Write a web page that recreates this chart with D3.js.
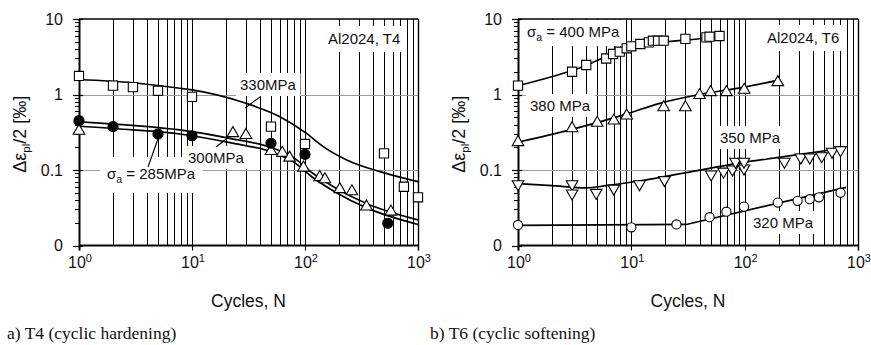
<!DOCTYPE html>
<html><head><meta charset="utf-8">
<script src="https://cdn.jsdelivr.net/npm/d3@7/dist/d3.min.js"></script>
<style>
body{margin:0;background:#fff}
svg{display:block}
text{font-family:"Liberation Sans",Arial,sans-serif;fill:#111}
</style>
</head><body>
<svg id="c" width="871" height="345"></svg>
<script>
// ---------- tick labels ----------
const yTickValues = [10, 1, 0.1, 0.01];
const yTickLabels = ["10", "1", "0.1", "0"];
const xTickValues = [1, 10, 100, 1000];
const xTickExps = ["0", "1", "2", "3"];

// ---------- panel a) T4 ----------
const t4_330_N = [1, 2, 3, 5, 10, 50, 100, 500, 750, 1000];
const t4_330_V = [1.76, 1.31, 1.25, 1.12, 0.93, 0.375, 0.221, 0.166, 0.060, 0.0435];
const t4_300_N = [1, 2, 5, 10, 50, 100, 540];
const t4_300_V = [0.45, 0.375, 0.30, 0.284, 0.226, 0.161, 0.0197];
const t4_285_N = [1, 23, 30, 50, 63, 73, 97, 135, 150, 203, 260, 350, 575];
const t4_285_V = [0.33, 0.306, 0.29, 0.178, 0.168, 0.145, 0.107, 0.080, 0.075, 0.0555, 0.052, 0.0327, 0.028];
const t4_fit330_N = [1, 3, 7.8, 10, 30, 60, 103, 145, 234, 461, 1000];
const t4_fit330_V = [1.58, 1.43, 1.21, 1.15, 0.765, 0.508, 0.306, 0.204, 0.136, 0.095, 0.070];
const t4_fit300_N = [1, 3, 7.8, 21.7, 52.5, 78.6, 118, 190, 350, 1000];
const t4_fit300_V = [0.435, 0.39, 0.34, 0.263, 0.194, 0.147, 0.090, 0.057, 0.036, 0.0218];
const t4_fit285_N = [1, 3, 7.8, 21.7, 52.5, 78.6, 118, 190, 350, 1000];
const t4_fit285_V = [0.38, 0.34, 0.30, 0.23, 0.17, 0.129, 0.079, 0.050, 0.0315, 0.019];

// ---------- panel b) T6 ----------
const t6_400_N = [1, 3, 4, 6, 6.9, 7.9, 9.1, 10, 12, 14.3, 15.5, 17.2, 19.3, 30, 46, 49, 60];
const t6_400_V = [1.31, 2.0, 2.46, 3.0, 3.44, 3.69, 4.09, 4.35, 4.67, 4.9, 5.16, 5.16, 5.16, 5.45, 5.72, 5.83, 5.95];
const t6_380_N = [1, 3, 5, 7, 9.1, 19.3, 30, 40, 50, 69, 99, 196];
const t6_380_V = [0.233, 0.356, 0.42, 0.45, 0.525, 0.676, 0.676, 0.98, 1.07, 1.07, 1.15, 1.45];
const t6_350_N = [1, 3, 3, 4.9, 7, 11.8, 19.6, 50.6, 65, 78, 98.6, 83, 98.6, 224, 313, 375, 478, 590, 701];
const t6_350_V = [0.065, 0.065, 0.049, 0.050, 0.057, 0.065, 0.0738, 0.0877, 0.0955, 0.102, 0.105, 0.129, 0.129, 0.129, 0.147, 0.147, 0.153, 0.175, 0.184];
const t6_320_N = [1, 10, 25, 49, 69, 98.6, 196, 293, 375, 452, 701];
const t6_320_V = [0.0187, 0.0174, 0.019, 0.0237, 0.028, 0.0327, 0.037, 0.039, 0.041, 0.0435, 0.050];
const t6_fit400_N = [1, 3.3, 9, 17.8, 30, 49, 60];
const t6_fit400_V = [1.31, 2.18, 4.0, 4.9, 5.25, 5.65, 5.85];
const t6_fit380_N = [1, 3, 9, 17.8, 40, 99, 200];
const t6_fit380_V = [0.233, 0.345, 0.55, 0.764, 1.0, 1.25, 1.55];
const t6_fit350_N = [1, 2, 4, 6, 12, 18, 30, 95, 200, 730];
const t6_fit350_V = [0.066, 0.062, 0.058, 0.062, 0.072, 0.08, 0.092, 0.125, 0.147, 0.194];
const t6_fit320_N = [1, 30.6, 785];
const t6_fit320_V = [0.0185, 0.019, 0.059];

const zip = (N, V) => N.map((n, i) => [n, V[i]]);

const svg = d3.select("#c");
const TOP = 19, BOT = 245.5;

function panel(x0, x1, cfg) {
  const x = d3.scaleLog().domain([1, 1000]).range([x0, x1]);
  const y = d3.scaleLog().domain([0.01, 10]).range([BOT, TOP]);
  const g = svg.append("g");
  const gGrid = g.append("g"), gBox = g.append("g"), gAxis = g.append("g"),
        gLine = g.append("g"), gMark = g.append("g"), gText = g.append("g");
  const snap = v => Math.round(v) + 0.5;

  // vertical grid
  const gridN = [];
  for (let k = 0; k < 3; k++) for (let d = 1; d <= 9; d++) gridN.push(d * Math.pow(10, k));
  gridN.push(1000);
  gGrid.selectAll("line.v").data(gridN).join("line")
    .attr("x1", d => snap(x(d))).attr("x2", d => snap(x(d)))
    .attr("y1", TOP).attr("y2", d => (d === 10 || d === 100 || d === 1000 || d === 1) ? BOT + 5 : BOT)
    .attr("stroke", "#000").attr("stroke-width", 1);
  // horizontal grid (gray)
  gGrid.selectAll("line.h").data([1, 0.1]).join("line")
    .attr("x1", x0).attr("x2", x1)
    .attr("y1", d => snap(y(d))).attr("y2", d => snap(y(d)))
    .attr("stroke", "#9a9a9a").attr("stroke-width", 1);

  // axes
  gAxis.append("line").attr("x1", x0).attr("x2", x1).attr("y1", BOT).attr("y2", BOT)
    .attr("stroke", "#000").attr("stroke-width", 2.2);
  gAxis.append("line").attr("x1", x0).attr("x2", x1).attr("y1", TOP).attr("y2", TOP)
    .attr("stroke", "#000").attr("stroke-width", 1.4);
  gAxis.append("line").attr("x1", snap(x0)).attr("x2", snap(x0)).attr("y1", TOP).attr("y2", BOT + 5)
    .attr("stroke", "#000").attr("stroke-width", 2);
  gAxis.append("line").attr("x1", snap(x1)).attr("x2", snap(x1)).attr("y1", TOP).attr("y2", BOT + 5)
    .attr("stroke", "#000").attr("stroke-width", 1.4);
  // y ticks
  const minorY = [];
  for (let k = -2; k < 1; k++) for (let d = 2; d <= 9; d++) minorY.push(d * Math.pow(10, k));
  gAxis.selectAll("line.ym").data(minorY).join("line")
    .attr("x1", x0 - 4).attr("x2", x0).attr("y1", d => snap(y(d))).attr("y2", d => snap(y(d)))
    .attr("stroke", "#000").attr("stroke-width", 1);
  gAxis.selectAll("line.yM").data(yTickValues).join("line")
    .attr("x1", x0 - 6).attr("x2", x0 + 4).attr("y1", d => snap(y(d))).attr("y2", d => snap(y(d)))
    .attr("stroke", "#000").attr("stroke-width", 1.2);
  gAxis.selectAll("text.yl").data(yTickValues).join("text")
    .attr("x", x0 - 16).attr("y", d => y(d)).attr("dy", "0.36em")
    .attr("text-anchor", "end").attr("font-size", 16)
    .text((d, i) => yTickLabels[i]);
  // x tick labels
  const xl = gAxis.selectAll("text.xl").data(xTickValues).join("text")
    .attr("x", d => x(d) + 1).attr("y", 268).attr("text-anchor", "middle").attr("font-size", 16);
  xl.append("tspan").text("10");
  xl.append("tspan").attr("dy", -6).attr("font-size", 11).text((d, i) => xTickExps[i]);

  // axis titles
  gText.append("text").attr("x", (x0 + x1) / 2).attr("y", 307).attr("text-anchor", "middle")
    .attr("font-size", 17.5).text("Cycles, N");
  const yt = gText.append("text").attr("transform", `translate(${x0 - 53},${(TOP + BOT) / 2 + 2}) rotate(-90)`)
    .attr("text-anchor", "middle").attr("font-size", 18);
  yt.append("tspan").text("Δε");
  yt.append("tspan").attr("dy", 4).attr("font-size", 11.5).text("pl");
  yt.append("tspan").attr("dy", -4).text("/2 [‰]");

  // fitted curves
  const line = d3.line().x(d => x(d[0])).y(d => y(d[1]));
  cfg.fits.forEach(f => {
    gLine.append("path").attr("d", line.curve(f.curve || d3.curveMonotoneX)(f.data))
      .attr("fill", "none").attr("stroke", "#000").attr("stroke-width", 1.7);
  });

  // markers
  cfg.marks.forEach(m => {
    const sym = d3.symbol().type(m.type).size(m.size);
    gMark.selectAll(null).data(m.data).join("path")
      .attr("d", sym)
      .attr("transform", d => `translate(${x(d[0])},${y(d[1])})` + (m.down ? " rotate(180)" : ""))
      .attr("fill", m.fill).attr("stroke", "#000").attr("stroke-width", 1.1);
  });

  // labels with white backgrounds
  cfg.labels.forEach(l => {
    const t = gText.append("text").attr("x", l.x).attr("y", l.y).attr("font-size", 15);
    l.parts.forEach(p => {
      const ts = t.append("tspan").text(p.t);
      if (p.sub) ts.attr("dy", 4).attr("font-size", 10.5);
      if (p.back) ts.attr("dy", -4);
    });
    const bb = t.node().getBBox();
    const pad = l.pad || [4, 3, 4, 3];
    gBox.append("rect").attr("x", bb.x - pad[0]).attr("y", bb.y - pad[1])
      .attr("width", bb.width + pad[0] + pad[2]).attr("height", bb.height + pad[1] + pad[3])
      .attr("fill", "#fff");
  });
  (cfg.leaders || []).forEach(L => {
    gLine.append("line").attr("x1", L[0]).attr("y1", L[1]).attr("x2", L[2]).attr("y2", L[3])
      .attr("stroke", "#000").attr("stroke-width", 1.1);
  });
}

panel(79, 418, {
  fits: [
    { data: zip(t4_fit330_N, t4_fit330_V) },
    { data: zip(t4_fit300_N, t4_fit300_V) },
    { data: zip(t4_fit285_N, t4_fit285_V) }
  ],
  marks: [
    { type: d3.symbolSquare, size: 85, fill: "#fff", data: zip(t4_330_N, t4_330_V) },
    { type: d3.symbolTriangle, size: 58, fill: "#fff", data: zip(t4_285_N, t4_285_V) },
    { type: d3.symbolCircle, size: 80, fill: "#000", data: zip(t4_300_N, t4_300_V) }
  ],
  labels: [
    { x: 328, y: 44, parts: [{ t: "Al2024, T4" }], pad: [4, 4, 6, 5] },
    { x: 240, y: 90, parts: [{ t: "330MPa" }] },
    { x: 188, y: 163, parts: [{ t: "300MPa" }] },
    { x: 107, y: 179, parts: [{ t: "σ" }, { t: "a", sub: true }, { t: " = 285MPa", back: true }], pad: [7, 8, 7, 8] }
  ],
  leaders: [[260, 97, 245, 108], [216, 147, 230, 136], [148, 167, 159, 136]]
});

panel(518, 858, {
  fits: [
    { data: zip(t6_fit400_N, t6_fit400_V) },
    { data: zip(t6_fit380_N, t6_fit380_V) },
    { data: zip(t6_fit350_N, t6_fit350_V) },
    { data: zip(t6_fit320_N, t6_fit320_V), curve: d3.curveLinear }
  ],
  marks: [
    { type: d3.symbolSquare, size: 85, fill: "#fff", data: zip(t6_400_N, t6_400_V) },
    { type: d3.symbolTriangle, size: 58, fill: "#fff", data: zip(t6_380_N, t6_380_V) },
    { type: d3.symbolTriangle, size: 58, fill: "#fff", down: true, data: zip(t6_350_N, t6_350_V) },
    { type: d3.symbolCircle, size: 66, fill: "#fff", data: zip(t6_320_N, t6_320_V) }
  ],
  labels: [
    { x: 527, y: 37, parts: [{ t: "σ" }, { t: "a", sub: true }, { t: " = 400 MPa", back: true }] },
    { x: 530, y: 111, parts: [{ t: "380 MPa" }] },
    { x: 767, y: 43, parts: [{ t: "Al2024, T6" }], pad: [4, 4, 6, 5] },
    { x: 720, y: 143, parts: [{ t: "350 MPa" }] },
    { x: 753, y: 228, parts: [{ t: "320 MPa" }] }
  ]
});

// captions
svg.append("text").attr("x", 7).attr("y", 339).attr("font-size", 17.5)
  .style("font-family", "'Liberation Serif','Times New Roman',serif").text("a) T4 (cyclic hardening)");
svg.append("text").attr("x", 430).attr("y", 339).attr("font-size", 17.5)
  .style("font-family", "'Liberation Serif','Times New Roman',serif").text("b) T6 (cyclic softening)");
</script>
</body></html>
